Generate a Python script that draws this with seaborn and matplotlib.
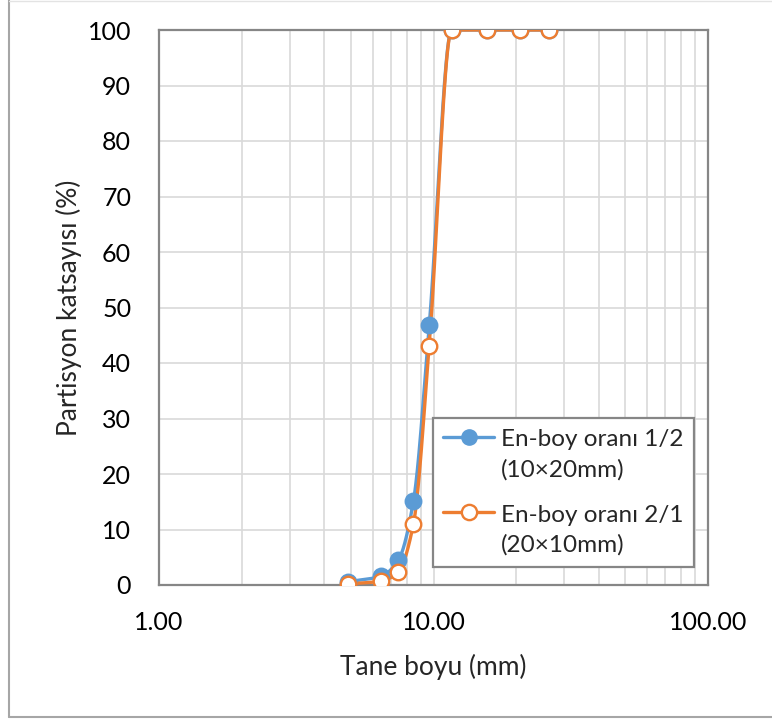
import numpy as np
import pandas as pd
import matplotlib
matplotlib.use("Agg")
import matplotlib.pyplot as plt
import seaborn as sns
from matplotlib.lines import Line2D
from matplotlib.ticker import FixedLocator, LogLocator, NullFormatter

# ---- data ----
size_mm = [4.9, 6.45, 7.45, 8.45, 9.65, 11.65, 15.65, 20.65, 26.4]
series_a = [0.6, 1.6, 4.5, 15.1, 46.8, 100, 100, 100, 100]
series_b = [0.2, 0.7, 2.4, 11.0, 43.1, 100, 100, 100, 100]
label_a = "En-boy oranı 1/2\n(10×20mm)"
label_b = "En-boy oranı 2/1\n(20×10mm)"
x_ticks = [1, 10, 100]
x_tick_labels = ["1.00", "10.00", "100.00"]
y_ticks = list(range(0, 101, 10))

BLUE = "#5B9BD5"
ORANGE = "#ED7D31"
GRID = "#D9D9D9"
SPINE = "#868686"
FONT = ["Lato", "DejaVu Sans"]


def smooth(xs, ys, n=40):
    """Monotone cubic rendering of the line in log-x space (display only)."""
    lx = np.log10(np.asarray(xs, float))
    y = np.asarray(ys, float)
    h = np.diff(lx)
    d = np.diff(y) / h
    m = np.zeros_like(y)
    m[0], m[-1] = d[0], d[-1]
    for i in range(1, len(y) - 1):
        if d[i - 1] * d[i] <= 0:
            m[i] = 0
        else:
            w1 = 2 * h[i] + h[i - 1]
            w2 = h[i] + 2 * h[i - 1]
            m[i] = (w1 + w2) / (w1 / d[i - 1] + w2 / d[i])
    px, py = [], []
    for i in range(len(y) - 1):
        t = np.linspace(0, 1, n, endpoint=(i == len(y) - 2))
        h00 = 2 * t**3 - 3 * t**2 + 1
        h10 = t**3 - 2 * t**2 + t
        h01 = -2 * t**3 + 3 * t**2
        h11 = t**3 - t**2
        py.extend(h00 * y[i] + h10 * h[i] * m[i] + h01 * y[i + 1] + h11 * h[i] * m[i + 1])
        px.extend(10 ** (lx[i] + t * h[i]))
    return np.array(px), np.array(py)


sns.set_theme(style="white")
plt.rcParams["font.family"] = FONT

fig = plt.figure(figsize=(7.72, 7.2), dpi=100)
ax = fig.add_axes([159 / 772, 1 - 585 / 720, (708 - 159) / 772, (585 - 30) / 720])

for ys, col, face in [(series_a, BLUE, BLUE), (series_b, ORANGE, "white")]:
    sx, sy = smooth(size_mm, ys)
    df = pd.DataFrame({"x": sx, "y": sy})
    sns.lineplot(data=df, x="x", y="y", ax=ax, color=col, lw=2.4,
                 sort=False, estimator=None, zorder=3)
    pts = pd.DataFrame({"x": size_mm, "y": ys})
    sns.scatterplot(data=pts, x="x", y="y", ax=ax, s=125, color=face,
                    edgecolor=col, linewidth=1.7, zorder=4)

ax.set_xscale("log")
ax.set_xlim(1, 100)
ax.set_ylim(0, 100)
ax.xaxis.set_major_locator(FixedLocator(x_ticks))
ax.set_xticklabels(x_tick_labels)
ax.xaxis.set_minor_locator(LogLocator(base=10, subs=np.arange(2, 10)))
ax.xaxis.set_minor_formatter(NullFormatter())
ax.set_yticks(y_ticks)
ax.grid(True, which="both", axis="x", color=GRID, lw=1.2, zorder=0)
ax.grid(True, which="major", axis="y", color=GRID, lw=1.2, zorder=0)
ax.set_axisbelow(True)
for s in ax.spines.values():
    s.set_color(SPINE)
    s.set_linewidth(1.6)
ax.tick_params(axis="both", which="both", length=0, labelsize=18, colors="black")
ax.tick_params(axis="x", pad=19)
ax.tick_params(axis="y", pad=20)
ax.set_xlabel("Tane boyu (mm)", fontsize=19, labelpad=14)
ax.set_ylabel("Partisyon katsayısı (%)", fontsize=19, labelpad=4)

handles = [
    Line2D([0], [0], color=BLUE, lw=2.4, marker="o", ms=11,
           markerfacecolor=BLUE, markeredgecolor=BLUE),
    Line2D([0], [0], color=ORANGE, lw=2.4, marker="o", ms=11,
           markerfacecolor="white", markeredgecolor=ORANGE, markeredgewidth=1.7),
]
leg = ax.legend(handles, [label_a, label_b], loc="lower right",
                bbox_to_anchor=((694 - 159) / 549, (585 - 567) / 555),
                fontsize=17.5, frameon=True, fancybox=False, framealpha=1,
                edgecolor=SPINE, handlelength=2.1, handletextpad=0.25,
                labelspacing=1.0, borderpad=0.45, borderaxespad=0)
leg.get_frame().set_linewidth(1.6)
for t in leg.get_texts():
    t.set_linespacing(1.5)
# put each handle level with the first line of its two-line label
for hdl in leg.legend_handles:
    hdl.set_ydata(np.asarray(hdl.get_ydata(), float) + 13)

# outer chart-area border
fig.add_artist(Line2D([9 / 772, 9 / 772], [3 / 720, 1], transform=fig.transFigure,
                      color="#A6A6A6", lw=1.5))
fig.add_artist(Line2D([9 / 772, 1], [3 / 720, 3 / 720], transform=fig.transFigure,
                      color="#A6A6A6", lw=1.5))
fig.add_artist(Line2D([9 / 772, 1], [1 - 0.5 / 720, 1 - 0.5 / 720],
                      transform=fig.transFigure, color="#E3E3E3", lw=1.0))

fig.savefig("out.png", dpi=100)
